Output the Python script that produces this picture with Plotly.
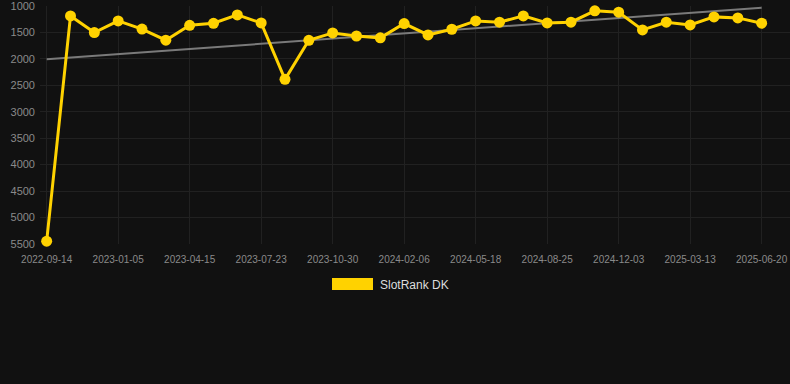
import plotly.graph_objects as go

dates = [
    "2022-09-14", "2022-10-22", "2022-11-28",
    "2023-01-05", "2023-02-07", "2023-03-13",
    "2023-04-15", "2023-05-18", "2023-06-20",
    "2023-07-23", "2023-08-25", "2023-09-27",
    "2023-10-30", "2023-12-02", "2024-01-04",
    "2024-02-06", "2024-03-10", "2024-04-14",
    "2024-05-18", "2024-06-20", "2024-07-23",
    "2024-08-25", "2024-09-27", "2024-10-30",
    "2024-12-03", "2025-01-05", "2025-02-07",
    "2025-03-13", "2025-04-15", "2025-05-18",
    "2025-06-20",
]
rank_dk = [
    5450, 1185, 1500, 1280, 1433, 1645, 1362, 1324, 1166, 1318,
    2386, 1646, 1507, 1565, 1600, 1329, 1545, 1437, 1279, 1304,
    1184, 1317, 1304, 1089, 1114, 1450, 1304, 1355, 1203, 1222,
    1323,
]
trend_dates = [dates[0], dates[-1]]
trend_values = [2005, 1030]
tick_labels = dates[::3]
y_ticks = [1000, 1500, 2000, 2500, 3000, 3500, 4000, 4500, 5000, 5500]
series_name = "SlotRank DK"

GOLD = "#FFD200"
BG = "#111111"
GRID = "#212121"
TICK = "#8a8a8a"

fig = go.Figure()
fig.add_trace(go.Scatter(
    x=trend_dates, y=trend_values, mode="lines",
    line=dict(color="#7a7a7a", width=2), showlegend=False, hoverinfo="skip",
))
fig.add_trace(go.Scatter(
    x=dates, y=rank_dk, mode="lines+markers", name=series_name,
    line=dict(color=GOLD, width=3),
    marker=dict(color=GOLD, size=11),
    showlegend=False, cliponaxis=False,
))

L, R, T, B = 40, 0, 6, 140
W, H = 790, 384
pw = W - L - R
ph = H - T - B

def px_x(p):
    return (p - L) / pw

def px_y(p):
    return (H - B - p) / ph

fig.add_shape(type="rect", xref="paper", yref="paper",
              x0=px_x(332), x1=px_x(373), y0=px_y(278), y1=px_y(290),
              fillcolor=GOLD, line=dict(width=0))
fig.add_annotation(xref="paper", yref="paper", x=px_x(378), y=px_y(284.5),
                   xanchor="left", yanchor="middle", showarrow=False,
                   text=series_name,
                   font=dict(family="Liberation Sans, Arial", size=12, color="#dddddd"))

fig.update_layout(
    width=W, height=H,
    margin=dict(l=L, r=R, t=T, b=B, pad=0),
    paper_bgcolor=BG, plot_bgcolor=BG,
    font=dict(family="Liberation Sans, Arial", color=TICK),
    showlegend=False,
    xaxis=dict(
        type="category",
        categoryorder="array", categoryarray=dates,
        range=[-0.28, 31.19],
        tickmode="array", tickvals=tick_labels, ticktext=tick_labels,
        tickfont=dict(size=10, color=TICK),
        showgrid=True, gridcolor=GRID, gridwidth=1,
        zeroline=False, showline=False, ticks="",
        ticklabelstandoff=8, ticklabeloverflow="allow",
    ),
    yaxis=dict(
        autorange=False, range=[5503, 997],
        tickmode="array", tickvals=y_ticks,
        tickfont=dict(size=11, color=TICK),
        showgrid=True, gridcolor=GRID, gridwidth=1,
        zeroline=False, showline=False, ticks="",
        ticklabelstandoff=4, ticklabeloverflow="allow",
    ),
)

fig.write_html(
    "out.html",
    config={"displayModeBar": False},
    post_script="document.body.style.margin='0';document.body.style.background='#111111';",
)
